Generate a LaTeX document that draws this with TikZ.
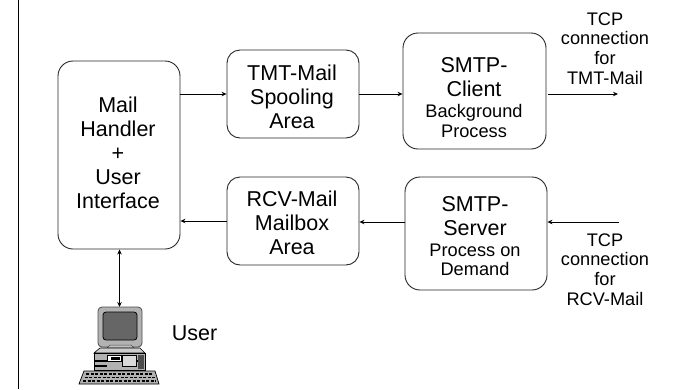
\documentclass[tikz,border=0pt]{standalone}
\usepackage{fontspec}
\setmainfont{Liberation Sans}
\usetikzlibrary{arrows.meta}
\tikzset{
 box/.style={draw=black!85,line width=0.9pt,rounded corners=#1,inner sep=0pt},
 box/.default=13pt,
 big/.style={align=center,inner sep=0pt,font=\fontsize{21.5}{24}\selectfont},
 conn/.style={draw=black,line width=0.9pt,-{Stealth[length=5pt,width=4.5pt]}},
 lab/.style={align=center,inner sep=0pt,font=\fontsize{18.2}{19.7}\selectfont}
}
\newcommand{\subt}{\fontsize{18.2}{20}\selectfont}
\begin{document}
\begin{tikzpicture}[x=1pt,y=-1pt]
\useasboundingbox (0,0) rectangle (675,389);
\draw[line width=1.4pt] (18.5,0) coordinate (ta) -- (18.5,389) coordinate (tb);
\node[box=15pt,minimum width=122pt,minimum height=188pt] (mh) at (119,155) {};
\node[big] (mht) at (118,152.5) {Mail\\Handler\\+\\User\\Interface};
\node[box,minimum width=132pt,minimum height=88pt] (tmt) at (293,94) {};
\node[big] (tmtt) at (292,96.5) {TMT-Mail\\Spooling\\Area};
\node[box,minimum width=132pt,minimum height=88pt] (rcv) at (293,221) {};
\node[big] (rcvt) at (292,223) {RCV-Mail\\Mailbox\\Area};
\node[box=15pt,minimum width=143pt,minimum height=116pt] (cl) at (474.5,91) {};
\node[big] (clt) at (474,97.5) {SMTP-\\Client\\[-3pt]{\subt Background}\\[-4pt]{\subt Process}};
\node[box=15pt,minimum width=142pt,minimum height=113pt] (sv) at (476,233.5) {};
\node[big] (svt) at (475,236) {SMTP-\\Server\\[-3pt]{\subt Process on}\\[-5pt]{\subt Demand}};
\node[lab] (l1) at (605,48.5) {TCP\\connection\\for\\TMT-Mail};
\node[lab] (l2) at (605,269.5) {TCP\\connection\\for\\RCV-Mail};
\coordinate (o1) at (618,94);
\coordinate (i2) at (619,222);
\draw[conn] (mh.east |- tmt) -- (tmt);
\draw[conn] (tmt) -- (cl.west |- tmt);
\draw[conn] (cl.east |- o1) ++(2,0) -- (o1);
\draw[conn] (i2) -- (sv.east |- i2);
\draw[conn] (sv.west |- i2) -- (rcv.east |- i2);
\draw[conn] (rcv) -- (mh.east |- rcv);
\coordinate (pc) at (119.5,307);
\draw[draw=black,line width=0.9pt,{Stealth[length=5pt,width=4.5pt]}-{Stealth[length=5pt,width=4.5pt]}] (mh.south -| pc) -- (pc);
\node[inner sep=0pt,font=\fontsize{21.5}{24}\selectfont] (user) at (194.5,333) {User};
% computer
\fill[black!30,draw=black!70,line width=0.8pt,rounded corners=4pt] (98,307) rectangle (142,347);
\fill[black!60,draw=black,line width=0.8pt,rounded corners=3pt] (103,312) rectangle (137,340);
\fill[black!25,draw=black!70,line width=0.5pt] (110,345) -- (131,345) -- (134,348) -- (107,348) -- cycle;
\fill[black!20,draw=black,line width=0.6pt] (100,348) -- (140,348) -- (145,353) -- (94,353) -- cycle;
\fill[black!30,draw=black,line width=0.7pt] (94,353) rectangle (145,370);
\fill[black] (95,360) rectangle (144,362);
\fill[black] (95,365) rectangle (107,367);
\fill[white,draw=black,line width=0.4pt] (107,355) rectangle (121,361);
\fill[black] (111,357) rectangle (120,360);
\fill[black!15,draw=black,line width=0.4pt] (122,355) rectangle (136,366);
\fill[black!70] (138,355) rectangle (144,369);
\fill[black!30,draw=black,line width=0.7pt] (79,384) -- (84,371) -- (155,371) -- (159,384) -- cycle;
\foreach \i in {0,1,2}{\draw[black,line width=1.3pt,dash pattern=on 3pt off 1.5pt] (86-\i*1.5,374+\i*3.5) -- (153+\i*1.5,374+\i*3.5);}
\end{tikzpicture}
\end{document}
